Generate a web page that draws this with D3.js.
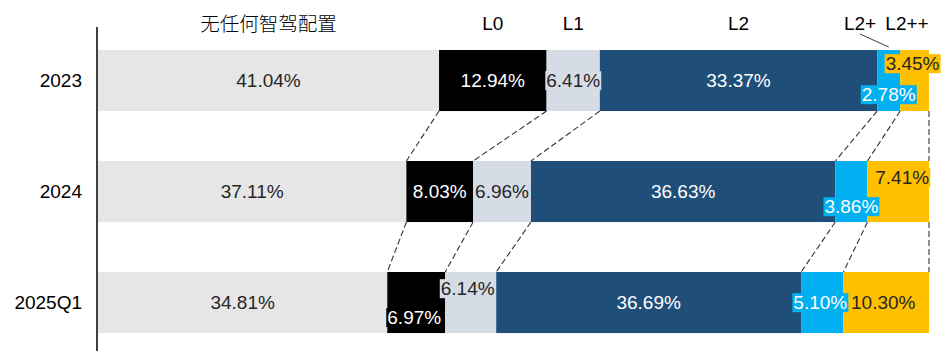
<!DOCTYPE html>
<html>
<head>
<meta charset="utf-8">
<script src="https://cdn.jsdelivr.net/npm/d3@7/dist/d3.min.js"></script>
<style>
  html, body { margin: 0; padding: 0; background: #fff; }
  svg { display: block; font-family: "Liberation Sans", Arial, "Noto Sans CJK SC", sans-serif; }
</style>
</head>
<body>
<svg id="chart" width="941" height="351"></svg>
<script>
// Share of vehicles by driver-assistance level (%)
const categories = ["2023", "2024", "2025Q1"];
const seriesNames = ["无任何智驾配置", "L0", "L1", "L2", "L2+", "L2++"];
const noneValues = [41.04, 37.11, 34.81];
const l0Values   = [12.94, 8.03, 6.97];
const l1Values   = [6.41, 6.96, 6.14];
const l2Values   = [33.37, 36.63, 36.69];
const l2pValues  = [2.78, 3.86, 5.10];
const l2ppValues = [3.45, 7.41, 10.30];

const seriesValues = [noneValues, l0Values, l1Values, l2Values, l2pValues, l2ppValues];
const colors = ["#e7e6e6", "#000000", "#d6dce5", "#1f4e79", "#00b0f0", "#ffc000"];
const textColors = ["#262626", "#ffffff", "#262626", "#ffffff", "#ffffff", "#262626"];

// Nudges for labels that would collide inside thin segments: [category][series] -> [dx, dy]
const labelNudge = {
  "2023":   { 4: [0, 14], 5: [-2, -17] },
  "2024":   { 4: [0, 15], 5: [4, -14] },
  "2025Q1": { 1: [-2, 15], 2: [-3, -14], 4: [-2, 0], 5: [-3, 0] }
};

const rows = categories.map((c, i) => {
  const r = { cat: c };
  seriesNames.forEach((s, j) => { r[s] = seriesValues[j][i]; });
  return r;
});

const svg = d3.select("#chart");
const x = d3.scaleLinear().domain([0, 100]).range([98, 929]);
const y = d3.scaleBand().domain(categories).range([50, 50 + 111 * 2.55])
  .paddingInner(0.45).paddingOuter(0);

const stacked = d3.stack().keys(seriesNames)(rows);

// Bars
const layers = svg.append("g").selectAll("g").data(stacked).join("g")
  .attr("fill", (d, i) => colors[i]);
layers.selectAll("rect").data(d => d).join("rect")
  .attr("x", d => x(d[0]))
  .attr("y", d => y(d.data.cat))
  .attr("width", d => x(d[1]) - x(d[0]))
  .attr("height", y.bandwidth());

// Dashed connectors between consecutive bars at each segment boundary
const conn = svg.append("g")
  .attr("stroke", "#333").attr("stroke-width", 1.1)
  .attr("stroke-dasharray", "6,3").attr("fill", "none");
for (let i = 0; i < categories.length - 1; i++) {
  const a = categories[i], b = categories[i + 1];
  const bounds = [];
  stacked.forEach((layer, k) => {
    if (k > 0) bounds.push([layer[i][0], layer[i + 1][0]]);
  });
  bounds.push([100, 100]);
  bounds.forEach(([va, vb]) => {
    conn.append("line")
      .attr("x1", x(va)).attr("y1", y(a) + y.bandwidth())
      .attr("x2", x(vb)).attr("y2", y(b));
  });
}

// Value labels
const labelG = svg.append("g").attr("font-size", 19).attr("text-anchor", "middle");
stacked.forEach((layer, k) => {
  layer.forEach((d, i) => {
    const cat = d.data.cat;
    const nudge = (labelNudge[cat] && labelNudge[cat][k]) || [0, 0];
    const cx = (x(d[0]) + x(d[1])) / 2 + nudge[0];
    const cy = y(cat) + y.bandwidth() / 2 + nudge[1];
    const g = labelG.append("g");
    const t = g.append("text")
      .attr("x", cx).attr("y", cy).attr("dy", "0.35em")
      .attr("fill", textColors[k])
      .text(d3.format(".2f")(seriesValues[k][i]) + "%");
    if (k > 0) {
      const bb = t.node().getBBox();
      g.insert("rect", "text")
        .attr("x", bb.x - 1).attr("y", bb.y + 1)
        .attr("width", bb.width + 2).attr("height", bb.height - 2)
        .attr("fill", colors[k]);
    }
  });
});

// Category labels
svg.append("g").attr("font-size", 19).attr("text-anchor", "end")
  .selectAll("text").data(categories).join("text")
  .attr("x", 82).attr("y", d => y(d) + y.bandwidth() / 2).attr("dy", "0.35em")
  .attr("fill", "#000").text(d => d);

// Vertical axis line
svg.append("line").attr("x1", 97).attr("x2", 97).attr("y1", 27).attr("y2", 351)
  .attr("stroke", "#000").attr("stroke-width", 1.5);

// Series headers above the first bar
const first = stacked.map(l => l[0]);
const headerX = first.map(d => (x(d[0]) + x(d[1])) / 2);
headerX[4] = 860; // L2+ label sits left with a leader line
headerX[5] = 907;
const hdr = svg.append("g").attr("text-anchor", "middle").attr("fill", "#000");
seriesNames.forEach((s, k) => {
  hdr.append("text").attr("x", headerX[k]).attr("y", k === 0 ? 31 : 30).text(s)
    .attr("font-family", k === 0 ? "'Noto Sans CJK SC', sans-serif" : null)
    .attr("font-weight", k === 0 ? 300 : null)
    .attr("font-size", k === 0 ? 19.5 : 19);
});
svg.append("line")
  .attr("x1", 860).attr("y1", 34)
  .attr("x2", (x(first[4][0]) + x(first[4][1])) / 2).attr("y2", 47)
  .attr("stroke", "#404040").attr("stroke-width", 1);
</script>
</body>
</html>
